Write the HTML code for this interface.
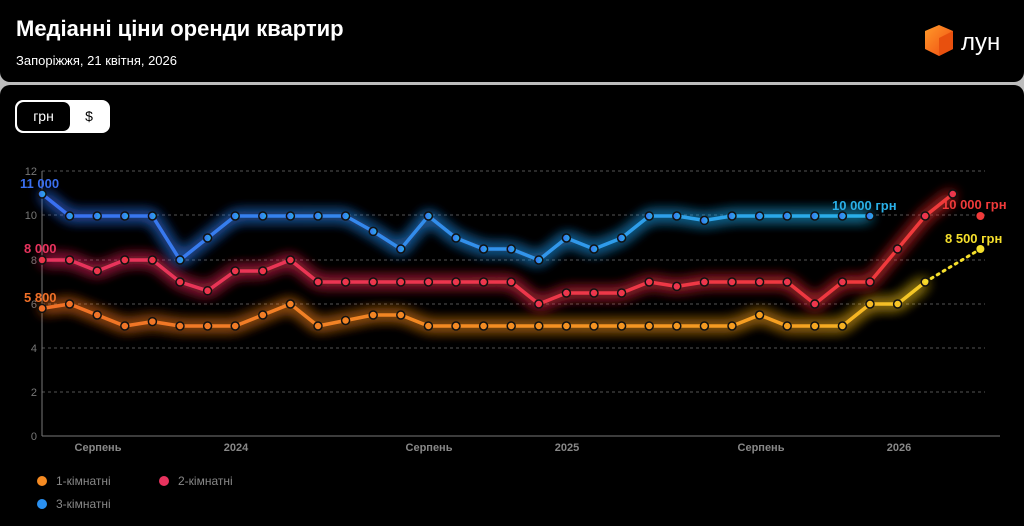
<!DOCTYPE html>
<html><head><meta charset="utf-8"><style>
html,body{margin:0;padding:0;width:1024px;height:526px;background:#bdbdbd;overflow:hidden;font-family:"Liberation Sans","DejaVu Sans",sans-serif}
.p1{position:absolute;left:0;top:0;width:1024px;height:82px;background:#000;border-radius:0 0 10px 10px}
.p2{position:absolute;left:0;top:85px;width:1024px;height:441px;background:#000;border-radius:10px 10px 0 0}
.t{position:absolute;left:16px;top:16px;color:#fff;font-size:22px;font-weight:bold}
.s{position:absolute;left:16px;top:53px;color:#fff;font-size:13px}
.tg{position:absolute;left:15px;top:100px;width:95px;height:33px;background:#fff;border-radius:8px}
.tg .a{position:absolute;left:2px;top:2px;width:53px;height:29px;background:#000;border-radius:7px;color:#fff;font-size:14px;text-align:center;line-height:29px}
.tg .b{position:absolute;left:62px;top:0;width:24px;line-height:33px;text-align:center;font-size:14px;color:#000}
svg{position:absolute;left:0;top:0}
</style></head><body>
<div class="p1"></div><div class="p2"></div>
<div class="t">Медіанні ціни оренди квартир</div>
<div class="s">Запоріжжя, 21 квітня, 2026</div>
<div class="tg"><div class="a">грн</div><div class="b">$</div></div>
<svg width="1024" height="526" xmlns="http://www.w3.org/2000/svg">
<defs>
<filter id="g" x="-10%" y="-60%" width="120%" height="220%"><feGaussianBlur stdDeviation="7" result="b"/><feMerge><feMergeNode in="b"/><feMergeNode in="b"/><feMergeNode in="b"/><feMergeNode in="SourceGraphic"/></feMerge></filter>
<linearGradient id="bl" x1="0" x2="1"><stop offset="0" stop-color="#3a6ff0"/><stop offset="1" stop-color="#2ab0e8"/></linearGradient>
<linearGradient id="rd" x1="0" x2="1"><stop offset="0" stop-color="#e8335e"/><stop offset="1" stop-color="#f03a3a"/></linearGradient>
<linearGradient id="or" gradientUnits="userSpaceOnUse" x1="42" x2="981"><stop offset="0" stop-color="#f07028"/><stop offset="0.8" stop-color="#f5a020"/><stop offset="1" stop-color="#f5df2c"/></linearGradient>
<linearGradient id="cube" x1="0" y1="0" x2="1" y2="1"><stop offset="0" stop-color="#ff9a2a"/><stop offset="1" stop-color="#f04a10"/></linearGradient>
</defs>
<polygon points="939,25 953,31 953,49 939,56 925,49 925,31" fill="url(#cube)"/>
<polygon points="939,38 953,31 953,49 939,56" fill="#e8500e"/>
<text x="961" y="50" fill="#fff" font-size="24" font-family="Liberation Sans,sans-serif">лун</text>
<g stroke="#555" stroke-dasharray="3,3" stroke-width="1">
<line x1="42" x2="985" y1="171" y2="171"/><line x1="42" x2="985" y1="215" y2="215"/><line x1="42" x2="985" y1="260" y2="260"/><line x1="42" x2="985" y1="304" y2="304"/><line x1="42" x2="985" y1="348" y2="348"/><line x1="42" x2="985" y1="392" y2="392"/>
</g>
<line x1="42" y1="171" x2="42" y2="436" stroke="#777"/>
<line x1="42" y1="436" x2="1000" y2="436" stroke="#777"/>
<g fill="#777" font-size="11" text-anchor="end">
<text x="37" y="175">12</text><text x="37" y="219">10</text><text x="37" y="264">8</text><text x="37" y="308">6</text><text x="37" y="352">4</text><text x="37" y="396">2</text><text x="37" y="440">0</text>
</g>
<g fill="#888" font-size="11" font-weight="bold" text-anchor="middle">
<text x="98" y="451">Серпень</text><text x="236" y="451">2024</text><text x="429" y="451">Серпень</text><text x="567" y="451">2025</text><text x="761" y="451">Серпень</text><text x="899" y="451">2026</text>
</g>
<g id="series"></g>
<g font-size="13" font-weight="bold">
<text x="20" y="188" fill="#3a6ff0">11 000</text>
<text x="24" y="253" fill="#e8335e">8 000</text>
<text x="24" y="302" fill="#f07028">5 800</text>
<text x="832" y="210" fill="#2ab0e8">10 000 грн</text>
<text x="942" y="209" fill="#f03a3a">10 000 грн</text>
<text x="945" y="243" fill="#f5df2c">8 500 грн</text>
</g>
<circle cx="42" cy="481" r="5" fill="#f58a22"/><text x="56" y="485" fill="#888" font-size="12">1-кімнатні</text>
<circle cx="164" cy="481" r="5" fill="#e8335e"/><text x="178" y="485" fill="#888" font-size="12">2-кімнатні</text>
<circle cx="42" cy="504" r="5" fill="#2a90f0"/><text x="56" y="508" fill="#888" font-size="12">3-кімнатні</text>
</svg>
<script>
const X=i=>42+i*27.6, Y=v=>436-v*22;
const blue=[11,10,10,10,10,8,9,10,10,10,10,10,9.3,8.5,10,9,8.5,8.5,8,9,8.5,9,10,10,9.8,10,10,10,10,10,10];
const red=[8,8,7.5,8,8,7,6.6,7.5,7.5,8,7,7,7,7,7,7,7,7,6,6.5,6.5,6.5,7,6.8,7,7,7,7,6,7,7,8.5,10,11];
const or=[5.8,6,5.5,5,5.2,5,5,5,5.5,6,5,5.25,5.5,5.5,5,5,5,5,5,5,5,5,5,5,5,5,5.5,5,5,5,6,6,7];
const ns="http://www.w3.org/2000/svg", g=document.getElementById('series');
function el(t,a){const e=document.createElementNS(ns,t);for(const k in a)e.setAttribute(k,a[k]);g.appendChild(e);return e;}
function draw(d,c){
 const pts=d.map((v,i)=>X(i)+','+Y(v)).join(' ');
 el('polyline',{points:pts,fill:'none',stroke:c,'stroke-width':3.5,filter:'url(#g)','stroke-linejoin':'round'});
 d.forEach((v,i)=>el('circle',{cx:X(i),cy:Y(v),r:4,fill:c,stroke:'#111','stroke-width':1.5}));
}
draw(or,'url(#or)');
el('polyline',{points:X(32)+','+Y(7)+' '+X(34)+','+Y(8.5),fill:'none',stroke:'#f5df2c','stroke-width':3,'stroke-dasharray':'2,5','stroke-linecap':'round'});
el('circle',{cx:X(34),cy:Y(8.5),r:4,fill:'#f5df2c'});
draw(red,'url(#rd)');
el('circle',{cx:X(34),cy:Y(10),r:4,fill:'#f03a3a'});
draw(blue,'url(#bl)');
</script>
</body></html>
